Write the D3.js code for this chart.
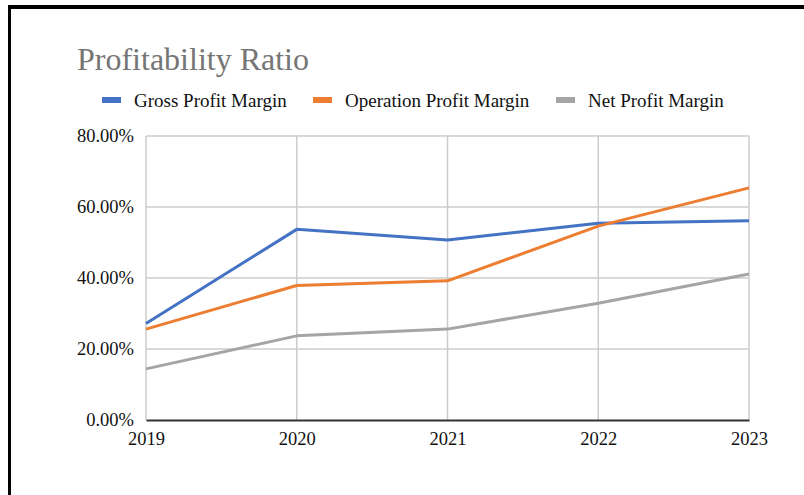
<!DOCTYPE html>
<html>
<head>
<meta charset="utf-8">
<script src="https://cdn.jsdelivr.net/npm/d3@7"></script>
<style>
  html, body { margin: 0; padding: 0; background: #fff; }
  svg { display: block; }
</style>
</head>
<body>
<div id="chart"></div>
<script>
// data
const years = ["2019", "2020", "2021", "2022", "2023"];
const grossMargin = [27.2, 53.7, 50.7, 55.4, 56.1];
const operationMargin = [25.6, 37.9, 39.2, 54.6, 65.4];
const netMargin = [14.4, 23.7, 25.6, 32.9, 41.1];
const yTicks = [0, 20, 40, 60, 80];
const seriesNames = ["Gross Profit Margin", "Operation Profit Margin", "Net Profit Margin"];
const colors = ["#4472c4", "#ed7d31", "#a5a5a5"];

const width = 804, height = 495;
const font = "'Liberation Serif', 'Times New Roman', serif";

const svg = d3
  .select("#chart")
  .append("svg")
  .attr("width", width)
  .attr("height", height);

// frame (left + top black edges)
svg.append("rect").attr("x", 8).attr("y", 5).attr("width", width - 8).attr("height", 4).attr("fill", "#000");
svg.append("rect").attr("x", 8).attr("y", 5).attr("width", 3).attr("height", height - 5).attr("fill", "#000");

const x = d3.scalePoint().domain(years).range([146, 749]);
const y = d3.scaleLinear().domain([0, 80]).range([420, 136]);

// title
svg
  .append("text")
  .attr("x", 77)
  .attr("y", 70)
  .attr("font-family", font)
  .attr("font-size", "32px")
  .attr("fill", "#757575")
  .text("Profitability Ratio");

// legend
const legendX = [102, 313, 556];
const legend = svg
  .selectAll(".legend")
  .data(seriesNames)
  .join("g")
  .attr("class", "legend")
  .attr("transform", (d, i) => `translate(${legendX[i]},100)`);
legend
  .append("rect")
  .attr("x", 0)
  .attr("y", -3)
  .attr("width", 19)
  .attr("height", 6)
  .attr("fill", (d, i) => colors[i]);
legend
  .append("text")
  .attr("x", 32)
  .attr("y", 6.5)
  .attr("font-family", font)
  .attr("font-size", "19px")
  .attr("fill", "#111")
  .text((d) => d);

// grid
const grid = svg.append("g");
grid
  .selectAll(".hgrid")
  .data(yTicks.filter((t) => t > 0))
  .join("line")
  .attr("x1", x.range()[0])
  .attr("x2", x.range()[1])
  .attr("y1", (d) => y(d))
  .attr("y2", (d) => y(d))
  .attr("stroke", "#cccccc")
  .attr("stroke-width", 1.5);
grid
  .selectAll(".vgrid")
  .data(years)
  .join("line")
  .attr("x1", (d) => x(d))
  .attr("x2", (d) => x(d))
  .attr("y1", y(80))
  .attr("y2", y(0))
  .attr("stroke", "#cccccc")
  .attr("stroke-width", 1.5);

// y axis labels
const yAxis = svg
  .append("g")
  .attr("transform", `translate(${x.range()[0]},0)`)
  .call(
    d3.axisLeft(y)
      .tickValues(yTicks)
      .tickSize(0)
      .tickPadding(12)
      .tickFormat((d) => d.toFixed(2) + "%")
  );
yAxis.select(".domain").remove();
yAxis
  .selectAll("text")
  .attr("font-family", font)
  .attr("font-size", "18.5px")
  .attr("fill", "#111")
  .attr("dy", "0.32em");

// x axis
const xAxis = svg
  .append("g")
  .attr("transform", `translate(0,${y(0)})`)
  .call(d3.axisBottom(x).tickSize(0).tickPadding(12));
xAxis.select(".domain").attr("stroke", "#333").attr("stroke-width", 2);
xAxis
  .selectAll("text")
  .attr("font-family", font)
  .attr("font-size", "18.5px")
  .attr("fill", "#111");

// lines
const allSeries = [grossMargin, operationMargin, netMargin];
const line = d3
  .line()
  .x((d, i) => x(years[i]))
  .y((d) => y(d));

svg
  .selectAll(".series")
  .data(allSeries)
  .join("path")
  .attr("class", "series")
  .attr("d", line)
  .attr("fill", "none")
  .attr("stroke", (d, i) => colors[i])
  .attr("stroke-width", 3)
  .attr("stroke-linejoin", "round");
</script>
</body>
</html>
